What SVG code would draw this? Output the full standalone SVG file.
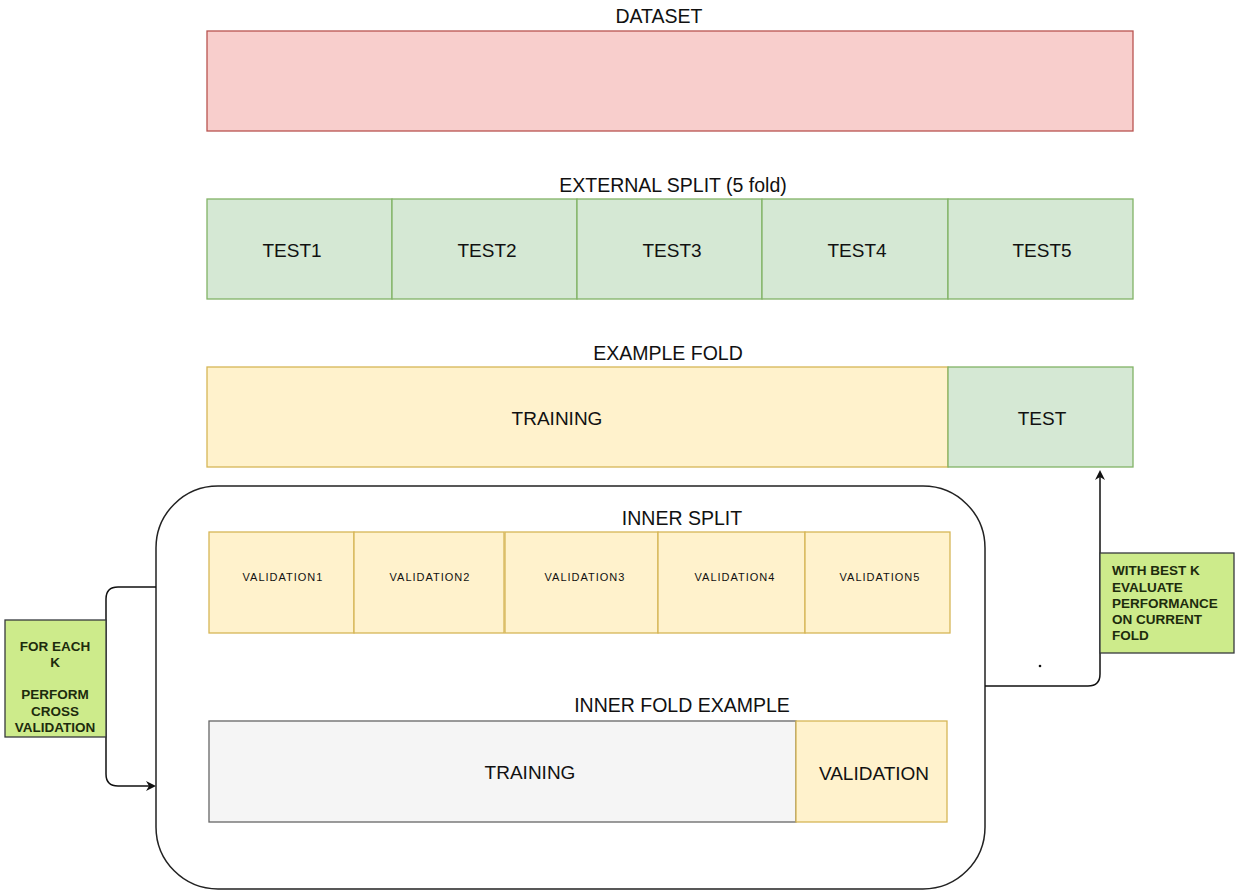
<svg xmlns="http://www.w3.org/2000/svg" width="1242" height="895" viewBox="0 0 1242 895">
<defs>
<style>
text{font-family:"Liberation Sans",Arial,sans-serif;fill:#111;text-anchor:middle;dominant-baseline:central}
.title{font-size:19.5px}
.big{font-size:19px}
.small{font-size:11px;letter-spacing:1px}
.note{font-size:13.5px;font-weight:bold;fill:#1d2b0d}
.red{fill:#f8cecc;stroke:#b85450;stroke-width:1.3}
.green{fill:#d5e8d4;stroke:#82b366;stroke-width:1.3}
.yellow{fill:#fff2cc;stroke:#d6b656;stroke-width:1.3}
.gray{fill:#f5f5f5;stroke:#666;stroke-width:1.3}
.lime{fill:#cdeb8b;stroke:#36393d;stroke-width:1.3}
.conn{fill:none;stroke:#111;stroke-width:1.5}
</style>
<marker id="arr" markerWidth="10" markerHeight="10" refX="8" refY="5" orient="auto" markerUnits="userSpaceOnUse">
<path d="M0,0 L10,5 L0,10 L3,5 Z" fill="#111"/>
</marker>
</defs>
<rect width="1242" height="895" fill="#fff"/>
<g id="dataset">
<text class="title" x="659" y="16">DATASET</text>
<rect class="red" x="207" y="31" width="926" height="100"/>
</g>
<g id="external-split">
<text class="title" x="673" y="185">EXTERNAL SPLIT (5 fold)</text>
<g id="test1"><rect class="green" x="207" y="199" width="185" height="100"/><text class="big" x="292" y="250">TEST1</text></g>
<g id="test2"><rect class="green" x="392" y="199" width="185" height="100"/><text class="big" x="487" y="250">TEST2</text></g>
<g id="test3"><rect class="green" x="577" y="199" width="185" height="100"/><text class="big" x="672" y="250">TEST3</text></g>
<g id="test4"><rect class="green" x="762" y="199" width="186" height="100"/><text class="big" x="857" y="250">TEST4</text></g>
<g id="test5"><rect class="green" x="948" y="199" width="185" height="100"/><text class="big" x="1042" y="250">TEST5</text></g>
</g>
<g id="example-fold">
<text class="title" x="668" y="353">EXAMPLE FOLD</text>
<g id="training"><rect class="yellow" x="207" y="367" width="741" height="100"/><text class="big" x="557" y="418">TRAINING</text></g>
<g id="test"><rect class="green" x="948" y="367" width="185" height="100"/><text class="big" x="1042" y="418">TEST</text></g>
</g>
<g id="inner-container">
<rect x="156" y="486" width="829" height="403" rx="62" ry="62" fill="#fff" stroke="#222" stroke-width="1.5"/>
</g>
<g id="inner-split">
<text class="title" x="682" y="518">INNER SPLIT</text>
<g id="val1"><rect class="yellow" x="209" y="532" width="145" height="101"/><text class="small" x="283" y="577">VALIDATION1</text></g>
<g id="val2"><rect class="yellow" x="354" y="532" width="150" height="101"/><text class="small" x="430" y="577">VALIDATION2</text></g>
<g id="val3"><rect class="yellow" x="505" y="532" width="153" height="101"/><text class="small" x="585" y="577">VALIDATION3</text></g>
<g id="val4"><rect class="yellow" x="658" y="532" width="147" height="101"/><text class="small" x="735" y="577">VALIDATION4</text></g>
<g id="val5"><rect class="yellow" x="805" y="532" width="145" height="101"/><text class="small" x="880" y="577">VALIDATION5</text></g>
</g>
<g id="inner-fold">
<text class="title" x="682" y="705">INNER FOLD EXAMPLE</text>
<g id="inner-training"><rect class="gray" x="209" y="721" width="587" height="101"/><text class="big" x="530" y="772">TRAINING</text></g>
<g id="inner-validation"><rect class="yellow" x="796" y="721" width="151" height="101"/><text class="big" x="874" y="773">VALIDATION</text></g>
</g>
<g id="connectors">
<path class="conn" d="M156,587 L118,587 Q106,587 106,599 L106,774 Q106,786 118,786 L154,786" marker-end="url(#arr)"/>
<path class="conn" d="M985,686 L1088,686 Q1100,686 1100,674 L1100,472" marker-end="url(#arr)"/>
<circle cx="1040" cy="666" r="1.3" fill="#111"/>
</g>
<g id="note-left">
<rect class="lime" x="5" y="620" width="101" height="117"/>
<text class="note" x="55" y="646">FOR EACH</text>
<text class="note" x="55" y="662">K</text>
<text class="note" x="55" y="694">PERFORM</text>
<text class="note" x="55" y="711">CROSS</text>
<text class="note" x="55" y="727">VALIDATION</text>
</g>
<g id="note-right">
<rect class="lime" x="1100" y="553" width="134" height="100"/>
<text class="note" x="1112" y="570" style="text-anchor:start">WITH BEST K</text>
<text class="note" x="1112" y="587" style="text-anchor:start">EVALUATE</text>
<text class="note" x="1112" y="603" style="text-anchor:start">PERFORMANCE</text>
<text class="note" x="1112" y="619" style="text-anchor:start">ON CURRENT</text>
<text class="note" x="1112" y="635" style="text-anchor:start">FOLD</text>
</g>
</svg>
